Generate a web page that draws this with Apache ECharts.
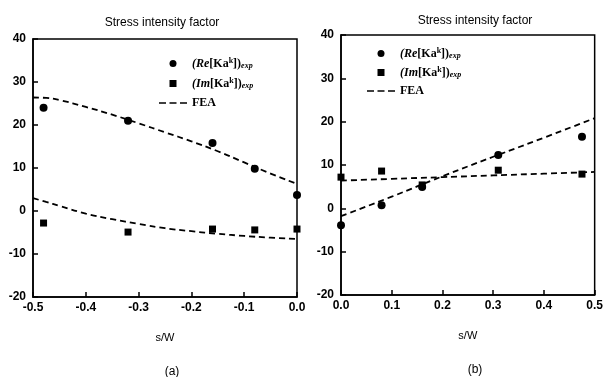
<!DOCTYPE html>
<html>
<head>
<meta charset="UTF-8">
<title>Stress intensity factor</title>
<script src="https://cdn.jsdelivr.net/npm/echarts@6/dist/echarts.min.js"></script>
<style>
    html,body{margin:0;padding:0;background:#fff;}
    #chart{width:606px;height:377px;}
</style>
</head>
<body>
<div id="chart"></div>
<script>
    // panel (a)
    let ptsXA = [-0.48, -0.32, -0.16, -0.08, 0.0];
    let reA = [24.0, 21.0, 15.8, 9.8, 3.7];
    let imA = [-2.8, -4.9, -4.2, -4.4, -4.2];
    let feaXA = [-0.5, -0.475, -0.45, -0.4, -0.35, -0.3, -0.25, -0.2, -0.15, -0.1, -0.05, 0.0];
    let feaReA = [26.4, 26.3, 25.8, 24.2, 22.4, 20.4, 18.3, 16.2, 13.9, 11.3, 8.7, 6.3];
    let feaImA = [3.0, 2.1, 1.2, -0.6, -1.9, -3.0, -4.0, -4.7, -5.3, -5.8, -6.2, -6.5];

    // panel (b)
    let ptsXB = [0.0, 0.08, 0.16, 0.31, 0.475];
    let reB = [-3.9, 0.7, 4.9, 12.3, 16.5];
    let imB = [7.2, 8.6, 5.4, 8.8, 7.9];
    let feaXB = [0.0, 0.1, 0.2, 0.3, 0.4, 0.5];
    let feaReB = [-1.8, 2.7, 7.4, 11.9, 16.3, 20.8];
    let feaImB = [6.4, 6.8, 7.2, 7.6, 8.0, 8.4];

    let yTicks = {min: -20, max: 40, interval: 10};

    function pairs(xs, ys){
        return xs.map(function(x, i){ return [x, ys[i]]; });
    }

    let labelFont = {color: '#000', fontFamily: 'Liberation Sans', fontWeight: 'bold', fontSize: 12};

    function xAxisOf(idx, min, max){
        return {
            type: 'value', gridIndex: idx, min: min, max: max, interval: 0.1,
            name: 's/W', nameLocation: 'middle', nameGap: 35,
            nameTextStyle: {color: '#000', fontFamily: 'Liberation Sans', fontSize: 11},
            axisLine: {show: true, onZero: false, lineStyle: {color: '#000', width: 1.5}},
            axisTick: {show: true, inside: true, length: 5, lineStyle: {color: '#000', width: 1.5}},
            axisLabel: Object.assign({margin: 5, formatter: function(v){ return v.toFixed(1); }}, labelFont),
            splitLine: {show: false}
        };
    }
    function yAxisOf(idx){
        return {
            type: 'value', gridIndex: idx, min: yTicks.min, max: yTicks.max, interval: yTicks.interval,
            axisLine: {show: true, onZero: false, lineStyle: {color: '#000', width: 1.5}},
            axisTick: {show: true, inside: true, length: 5, lineStyle: {color: '#000', width: 1.5}},
            axisLabel: Object.assign({margin: 7}, labelFont),
            splitLine: {show: false}
        };
    }

    let serif = 'Liberation Serif';
    let rich = {
        p: {fontFamily: serif, fontSize: 12, fontStyle: 'italic', fontWeight: 'bold', color: '#000', lineHeight: 13},
        k: {fontFamily: serif, fontSize: 12, fontWeight: 'bold', color: '#000', lineHeight: 13},
        sup: {fontFamily: serif, fontSize: 8, fontWeight: 'bold', color: '#000', lineHeight: 13, verticalAlign: 'top'},
        sub: {fontFamily: serif, fontSize: 8, fontWeight: 'bold', fontStyle: 'italic', color: '#000', lineHeight: 13, verticalAlign: 'bottom'},
        f: {fontFamily: serif, fontSize: 12, fontWeight: 'bold', color: '#000', lineHeight: 13}
    };
    function legendText(name){
        if(name === 'Re') return '{p|(Re}{k|[Ka}{sup|k}{k|])}{sub|exp}';
        if(name === 'Im') return '{p|(Im}{k|[Ka}{sup|k}{k|])}{sub|exp}';
        return '{f|' + name + '}';
    }
    let squareIcon = 'path://M0,0H10V10H0Z';
    let dashIcon = 'path://M0,0H7V1.6H0Z M10.5,0H17.5V1.6H10.5Z M21,0H28V1.6H21Z';
    function legendOf(left, top, gap){
        return {
            left: left, top: top, orient: 'vertical', itemGap: gap,
            itemWidth: 28, itemHeight: 7, selectedMode: false, symbolKeepAspect: true,
            data: [
                {name: 'Re', icon: 'circle', itemStyle: {color: '#000'}},
                {name: 'Im', icon: squareIcon, itemStyle: {color: '#000'}},
                {name: 'FEA', icon: dashIcon, itemStyle: {color: '#000'}}
            ],
            formatter: legendText,
            textStyle: {rich: rich}
        };
    }

    function scatter(name, idx, data, symbol, size){
        return {
            name: name, type: 'scatter', xAxisIndex: idx, yAxisIndex: idx,
            symbol: symbol, symbolSize: size, itemStyle: {color: '#000', opacity: 1},
            data: data, z: 3
        };
    }
    function fea(idx, data){
        return {
            name: 'FEA', type: 'line', xAxisIndex: idx, yAxisIndex: idx,
            smooth: true, symbol: 'none', data: data,
            lineStyle: {color: '#000', width: 1.8, type: [6, 4]},
            itemStyle: {color: '#000'}
        };
    }

    let myChart = echarts.init(document.getElementById('chart'));
    let option = {
        backgroundColor: '#fff',
        animation: false,
        title: [
            {text: 'Stress intensity factor', left: 157, top: 12, textAlign: 'center',
                textStyle: {fontFamily: 'Liberation Sans', fontSize: 12, fontWeight: 'normal', color: '#000'}},
            {text: 'Stress intensity factor', left: 470, top: 10, textAlign: 'center',
                textStyle: {fontFamily: 'Liberation Sans', fontSize: 12, fontWeight: 'normal', color: '#000'}},
            {text: '(a)', left: 167, top: 361, textAlign: 'center',
                textStyle: {fontFamily: 'Liberation Sans', fontSize: 12, fontWeight: 'normal', color: '#000'}},
            {text: '(b)', left: 470, top: 359, textAlign: 'center',
                textStyle: {fontFamily: 'Liberation Sans', fontSize: 12, fontWeight: 'normal', color: '#000'}}
        ],
        grid: [
            {left: 33, top: 39, width: 264, height: 258, show: true, borderColor: '#000', borderWidth: 1.5},
            {left: 341, top: 35, width: 258, height: 260, show: true, borderColor: '#000', borderWidth: 1.5}
        ],
        xAxis: [xAxisOf(0, -0.5, 0), xAxisOf(1, 0, 0.5)],
        yAxis: [yAxisOf(0), yAxisOf(1)],
        legend: [legendOf(154, 52, 7), legendOf(362, 42, 6)],
        series: [
            scatter('Re', 0, pairs(ptsXA, reA), 'circle', 8),
            scatter('Im', 0, pairs(ptsXA, imA), 'rect', 7),
            fea(0, pairs(feaXA, feaReA)),
            fea(0, pairs(feaXA, feaImA)),
            scatter('Re', 1, pairs(ptsXB, reB), 'circle', 8),
            scatter('Im', 1, pairs(ptsXB, imB), 'rect', 7),
            fea(1, pairs(feaXB, feaReB)),
            fea(1, pairs(feaXB, feaImB))
        ]
    };
    myChart.setOption(option);
</script>
</body>
</html>
